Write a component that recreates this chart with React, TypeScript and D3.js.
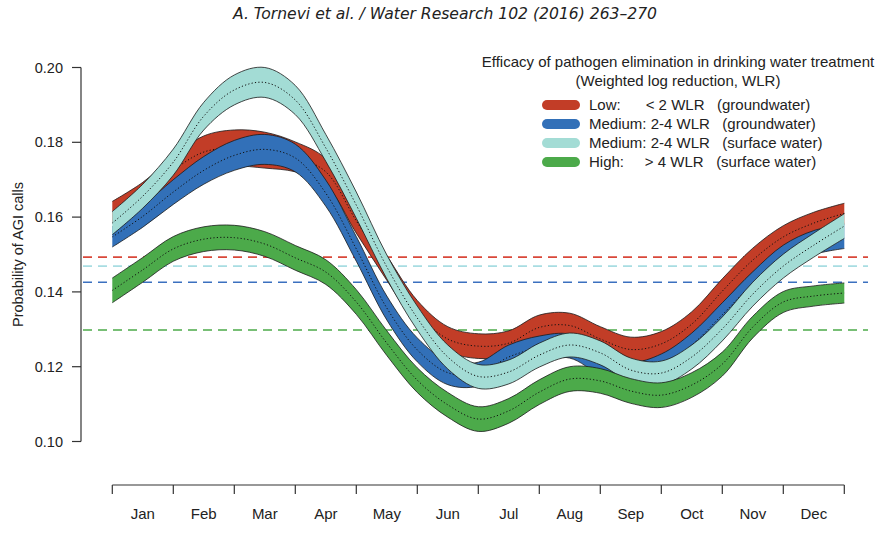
import React from "react";
import * as d3 from "d3";

// ---------- data ----------
const monthLabels = ["Jan","Feb","Mar","Apr","May","Jun","Jul","Aug","Sep","Oct","Nov","Dec"];
const monthTicks = [0,1,2,3,4,5,6,7,8,9,10,11,12];
const yTicks = [0.10,0.12,0.14,0.16,0.18,0.20];

// sample positions (months from Jan 1st)
const samplePos = [0,0.5,1,1.5,2,2.5,3,3.5,4,4.5,5,5.5,6,6.5,7,7.5,8,8.5,9,9.5,10,10.5,11,11.5,12];

const lowMean = [0.1614,0.1664,0.1726,0.1774,0.1785,0.1779,0.1761,0.1721,0.1590,0.1464,0.1344,0.1274,0.1255,0.1263,0.1305,0.1310,0.1274,0.1246,0.1261,0.1314,0.1402,0.1485,0.1547,0.1584,0.1610];
const lowHalf = [0.0028,0.0029,0.0035,0.0043,0.0048,0.0048,0.0040,0.0035,0.0033,0.0033,0.0033,0.0033,0.0033,0.0033,0.0033,0.0033,0.0033,0.0033,0.0033,0.0033,0.0033,0.0032,0.0030,0.0029,0.0027];

const medGwMean = [0.1547,0.1602,0.1667,0.1725,0.1765,0.1781,0.1758,0.1664,0.1515,0.1357,0.1245,0.1184,0.1180,0.1226,0.1250,0.1255,0.1210,0.1180,0.1202,0.1258,0.1339,0.1422,0.1493,0.1532,0.1548];
const medGwHalf = [0.0027,0.0029,0.0033,0.0037,0.0040,0.0040,0.0037,0.0035,0.0033,0.0032,0.0032,0.0032,0.0032,0.0032,0.0032,0.0032,0.0032,0.0032,0.0032,0.0032,0.0032,0.0032,0.0032,0.0032,0.0032];

const medSwMean = [0.1584,0.1656,0.1747,0.1870,0.1940,0.1960,0.1913,0.1785,0.1632,0.1467,0.1330,0.1226,0.1174,0.1186,0.1231,0.1258,0.1237,0.1191,0.1183,0.1226,0.1301,0.1394,0.1469,0.1525,0.1576];
const medSwHalf = [0.0031,0.0032,0.0035,0.0037,0.0040,0.0040,0.0039,0.0036,0.0035,0.0032,0.0032,0.0032,0.0032,0.0032,0.0032,0.0032,0.0032,0.0032,0.0032,0.0032,0.0032,0.0032,0.0032,0.0032,0.0033];

const highMean = [0.1404,0.1459,0.1515,0.1541,0.1545,0.1528,0.1491,0.1453,0.1373,0.1263,0.1164,0.1098,0.1060,0.1082,0.1132,0.1167,0.1162,0.1135,0.1124,0.1151,0.1207,0.1306,0.1373,0.1389,0.1397];
const highHalf = [0.0033,0.0033,0.0033,0.0033,0.0033,0.0033,0.0033,0.0033,0.0033,0.0033,0.0033,0.0033,0.0033,0.0033,0.0033,0.0033,0.0033,0.0033,0.0033,0.0033,0.0032,0.0029,0.0028,0.0027,0.0027];

// annual averages (dashed reference lines)
const refValues = [0.1493, 0.1469, 0.1426, 0.1298];

const seriesNames = ["Low", "MediumGW", "MediumSW", "High"];
const fillColors = ["#C23D27", "#3270B8", "#A3DCD5", "#4CAA4A"];
const dashColors = ["#D9483A", "#A8DDE2", "#3B70BF", "#4CAA4A"];
const legendLabels = [
  "Low:      < 2 WLR   (groundwater)",
  "Medium: 2-4 WLR   (groundwater)",
  "Medium: 2-4 WLR   (surface water)",
  "High:     > 4 WLR   (surface water)",
];
const means = [lowMean, medGwMean, medSwMean, highMean];
const halves = [lowHalf, medGwHalf, medSwHalf, highHalf];

// ---------- layout ----------
const W = 890, H = 535;
const FONT = "'Liberation Sans', Arial, Helvetica, sans-serif";

export default function App() {
  const x = d3.scaleLinear().domain([0, 12]).range([112.3, 844.3]);
  const y = d3.scaleLinear().domain([0.10, 0.20]).range([441.5, 67.5]);
  const curve = d3.curveCatmullRom.alpha(0.5);

  const bands = seriesNames.map((name, si) => {
    const pts = samplePos.map((p, i) => ({ p, m: means[si][i], h: halves[si][i] }));
    const area = d3.area<any>().x(d => x(d.p)).y0(d => y(d.m - d.h)).y1(d => y(d.m + d.h)).curve(curve);
    const upper = d3.line<any>().x(d => x(d.p)).y(d => y(d.m + d.h)).curve(curve);
    const lower = d3.line<any>().x(d => x(d.p)).y(d => y(d.m - d.h)).curve(curve);
    const mid = d3.line<any>().x(d => x(d.p)).y(d => y(d.m)).curve(curve);
    return { name, color: fillColors[si], area: area(pts)!, upper: upper(pts)!, lower: lower(pts)!, mid: mid(pts)! };
  });

  const plotLeft = 83, plotRight = 868;

  return (
    <svg width={W} height={H} style={{ position: "absolute", left: 0, top: 0, background: "#fff" }} fontFamily={FONT}>
      <rect x={0} y={0} width={W} height={H} fill="#fff" />
      {/* header */}
      <text x={445} y={19} textAnchor="middle" fontSize={15} fontStyle="italic"
        fontFamily="'Liberation Sans Narrow', 'DejaVu Sans Condensed', sans-serif" fill="#222"
        textLength={424} lengthAdjust="spacingAndGlyphs">
        A. Tornevi et al. / Water Research 102 (2016) 263–270
      </text>

      {/* dashed reference lines */}
      {refValues.map((v, i) => (
        <line key={"ref" + i} x1={plotLeft} x2={plotRight} y1={y(v)} y2={y(v)}
          stroke={dashColors[i]} strokeWidth={1.6} strokeDasharray="9,6" />
      ))}

      {/* bands */}
      {bands.map(b => (
        <g key={b.name}>
          <path d={b.area} fill={b.color} stroke="none" />
          <path d={b.upper} fill="none" stroke="#1a1a1a" strokeWidth={0.8} />
          <path d={b.lower} fill="none" stroke="#1a1a1a" strokeWidth={0.8} />
          <path d={b.mid} fill="none" stroke="#111" strokeWidth={1} strokeDasharray="1.2,2.2" />
        </g>
      ))}

      {/* y axis */}
      <line x1={81} x2={81} y1={y(0.20)} y2={y(0.10)} stroke="#333" strokeWidth={1.2} />
      {yTicks.map(t => (
        <g key={"yt" + t}>
          <line x1={72} x2={81} y1={y(t)} y2={y(t)} stroke="#333" strokeWidth={1.2} />
          <text x={63} y={y(t) + 5} textAnchor="end" fontSize={14.5} fill="#222">{t.toFixed(2)}</text>
        </g>
      ))}
      <text transform={`translate(23,${(y(0.20) + y(0.10)) / 2}) rotate(-90)`} textAnchor="middle" fontSize={14.5} fill="#222">
        Probability of AGI calls
      </text>

      {/* x axis */}
      <line x1={x(0)} x2={x(12)} y1={485} y2={485} stroke="#333" strokeWidth={1.2} />
      {monthTicks.map(t => (
        <line key={"xt" + t} x1={x(t)} x2={x(t)} y1={485} y2={494} stroke="#333" strokeWidth={1.2} />
      ))}
      {monthLabels.map((m, i) => (
        <text key={m} x={x(i + 0.5)} y={519} textAnchor="middle" fontSize={15} fill="#222">{m}</text>
      ))}

      {/* legend */}
      <text x={678} y={67} textAnchor="middle" fontSize={15} fill="#222">
        Efficacy of pathogen elimination in drinking water treatment
      </text>
      <text x={678} y={86} textAnchor="middle" fontSize={15} fill="#222">
        (Weighted log reduction, WLR)
      </text>
      {legendLabels.map((lab, i) => {
        const cy = 105 + i * 19;
        return (
          <g key={"lg" + i}>
            <line x1={547} x2={575} y1={cy} y2={cy} stroke={fillColors[i]} strokeWidth={10} strokeLinecap="round" />
            <text x={589} y={cy + 5} fontSize={15} fill="#222" style={{ whiteSpace: "pre" }} xmlSpace="preserve">{lab}</text>
          </g>
        );
      })}
    </svg>
  );
}
